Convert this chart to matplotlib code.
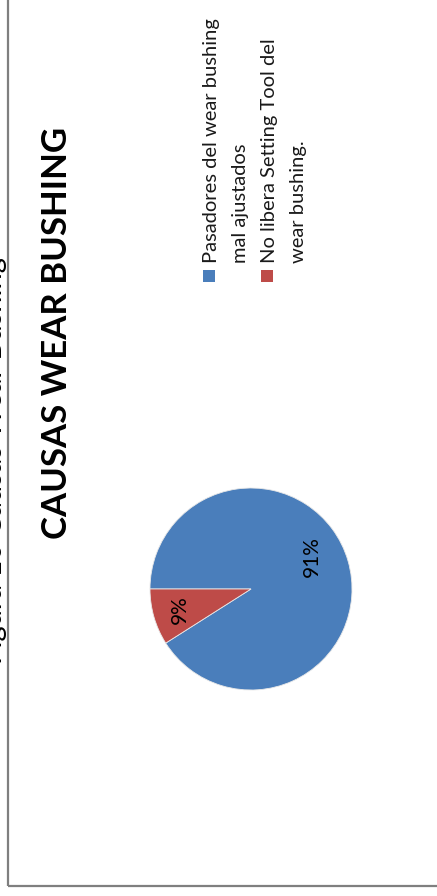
import matplotlib
matplotlib.use("Agg")
import matplotlib.pyplot as plt
from matplotlib.patches import Rectangle
from matplotlib.lines import Line2D
import numpy as np

# ---- data ----
categories = ["Pasadores del wear bushing\nmal ajustados",
              "No libera Setting Tool del\nwear bushing."]
shares = [91, 9]
colors = ["#4A7EBB", "#BE4B48"]
title = "CAUSAS WEAR BUSHING"
caption = "Figura 10 Causas Wear Bushing"

W, H = 437, 896
fig = plt.figure(figsize=(W / 100, H / 100), dpi=100)
fig.patch.set_facecolor("white")


def fx(px):
    return px / W


def fy(py):
    return 1 - py / H


FONT = ["Lato", "DejaVu Sans"]

# ---- frame of the chart area ----
frame_c = "#7F7F7F"
fig.add_artist(Line2D([fx(8), fx(8)], [fy(0), fy(886)], color=frame_c, lw=1.6,
                      transform=fig.transFigure, solid_capstyle="butt"))
fig.add_artist(Line2D([fx(8), fx(W)], [fy(886), fy(886)], color=frame_c, lw=1.6,
                      transform=fig.transFigure, solid_capstyle="butt"))

# ---- figure caption (runs past the page edge) ----
fig.text(fx(2), fy(461), caption, rotation=90, rotation_mode="anchor",
         ha="center", va="baseline", fontsize=21, family=FONT, color="black")

# ---- title ----
fig.text(fx(67), fy(333), title, rotation=90, rotation_mode="anchor",
         ha="center", va="baseline", fontsize=25, fontweight="bold",
         family=FONT, color="black")

# ---- pie ----
cx, cy, r = 251, 589, 101
ax = fig.add_axes([fx(cx - r), fy(cy + r), 2 * r / W, 2 * r / H])
wedges, texts, autotexts = ax.pie(
    shares, colors=colors, startangle=180, counterclock=False,
    autopct="%1.0f%%", pctdistance=0.7,
    wedgeprops=dict(edgecolor="#E8E8E8", linewidth=0.6),
    textprops=dict(fontsize=15, family=FONT, color="black", rotation=90))
ax.set_xlim(-1, 1)
ax.set_ylim(-1, 1)
ax.set_aspect("auto")
ax.axis("off")

# best-fit placement of the percentage labels
for w, t in zip(wedges, autotexts):
    t.set_ha("center")
    t.set_va("center")
    mid = np.deg2rad((w.theta1 + w.theta2) / 2)
    if w.theta2 - w.theta1 > 180:
        mid += np.deg2rad(12)
        d = 0.68
    else:
        d = 0.73
    t.set_position((d * np.cos(mid), d * np.sin(mid)))

# ---- legend (rotated with the chart) ----
base_x = [217, 275]
line_gap = 29
start_y = 263
for i, (lab, col) in enumerate(zip(categories, colors)):
    bx = base_x[i]
    fig.add_artist(Rectangle((fx(bx - 14), fy(282)), 12 / W, 12 / H,
                             transform=fig.transFigure, facecolor=col,
                             edgecolor="none"))
    for j, ln in enumerate(lab.split("\n")):
        fig.text(fx(bx + j * line_gap), fy(start_y), ln, rotation=90,
                 rotation_mode="anchor", ha="left", va="baseline",
                 fontsize=14.5, family=FONT, color="#1A1A1A")

fig.savefig("out.png", dpi=100, facecolor="white")
